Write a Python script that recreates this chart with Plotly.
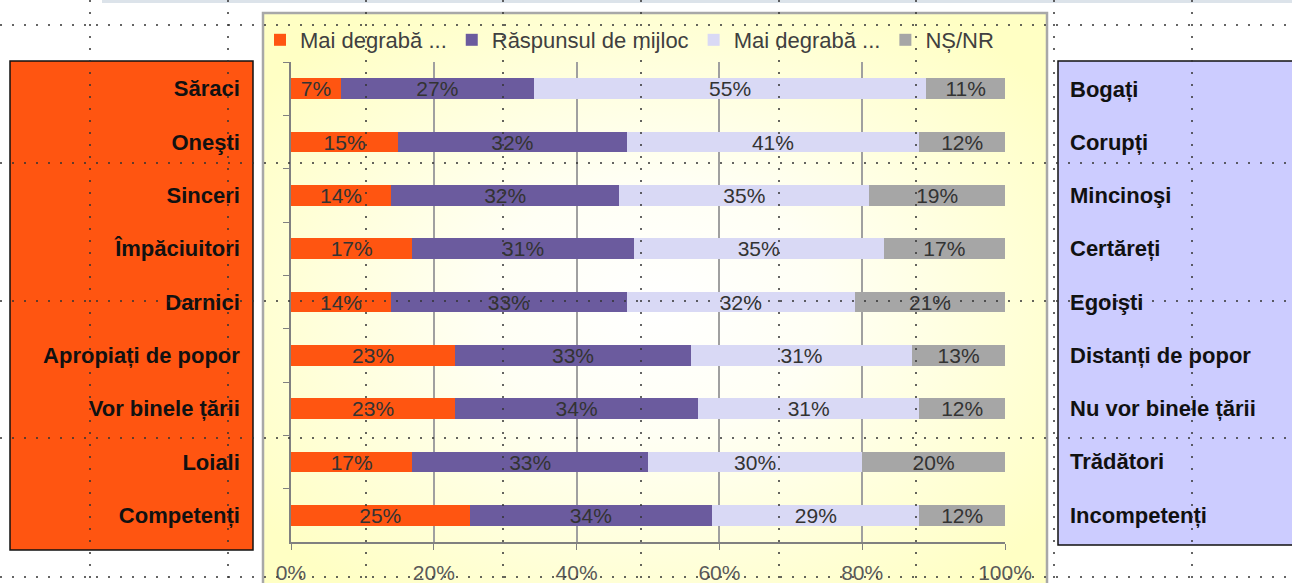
import base64
import plotly.graph_objects as go

# ---------------- data ----------------
left_labels = ["Săraci", "Oneşti", "Sinceri", "Împăciuitori", "Darnici",
               "Apropiați de popor", "Vor binele țării", "Loiali", "Competenți"]
right_labels = ["Bogați", "Corupți", "Mincinoşi", "Certăreți", "Egoişti",
                "Distanți de popor", "Nu vor binele țării", "Trădători", "Incompetenți"]

series_names = ["Mai degrabă ...", "Răspunsul de mijloc", "Mai degrabă ...", "NȘ/NR"]
neg_vals = [7, 15, 14, 17, 14, 23, 23, 17, 25]
mid_vals = [27, 32, 32, 31, 33, 33, 34, 33, 34]
pos_vals = [55, 41, 35, 35, 32, 31, 31, 30, 29]
nsnr_vals = [11, 12, 19, 17, 21, 13, 12, 20, 12]

x_tick_vals = [0, 20, 40, 60, 80, 100]
x_tick_text = ["0%", "20%", "40%", "60%", "80%", "100%"]

# ---------------- style ----------------
W, H = 1292, 583
L, R, T, B = 291, 287, 62, 41
PW, PH = W - L - R, H - T - B
colors = ["#FF5511", "#6B5B9E", "#D9D9F5", "#A6A6A6"]
FONT = "Liberation Sans, Arial, sans-serif"


def px(x):
    return (x - L) / PW


def py(y):
    return (H - B - y) / PH


fig = go.Figure()
for name, vals, col in zip(series_names, [neg_vals, mid_vals, pos_vals, nsnr_vals], colors):
    fig.add_trace(go.Bar(
        x=vals, y=left_labels, orientation="h", name=name,
        marker=dict(color=col, line=dict(width=0)),
        text=[f"{v}%" for v in vals], textposition="inside",
        insidetextanchor="middle", textangle=0, constraintext="none",
        textfont=dict(family=FONT, size=21, color="#333333"),
        hoverinfo="skip",
    ))

# invisible trace carrying the right-hand labels
fig.add_trace(go.Scatter(
    x=[0] * len(right_labels), y=right_labels, yaxis="y2", mode="markers",
    marker=dict(opacity=0, size=1), showlegend=False, hoverinfo="skip",
))

# gradient background of the chart frame
svg = ("<svg xmlns='http://www.w3.org/2000/svg' width='784' height='580'>"
       "<defs><radialGradient id='g' cx='50%' cy='50%' r='62%'>"
       "<stop offset='0' stop-color='#ffffff'/>"
       "<stop offset='0.35' stop-color='#fffff4'/>"
       "<stop offset='1' stop-color='#ffffc4'/>"
       "</radialGradient></defs>"
       "<rect width='784' height='580' fill='url(#g)'/></svg>")
src = "data:image/svg+xml;base64," + base64.b64encode(svg.encode()).decode()

shapes = []
# top strip
shapes.append(dict(type="rect", xref="paper", yref="paper", x0=px(102), x1=px(1292),
                   y0=py(0), y1=py(3), fillcolor="#DCE3EA", line=dict(width=0), layer="below"))
# left and right label boxes
shapes.append(dict(type="rect", xref="paper", yref="paper", x0=px(10), x1=px(253),
                   y0=py(61), y1=py(550), fillcolor="#FF5511",
                   line=dict(color="#111111", width=1.5), layer="below"))
shapes.append(dict(type="rect", xref="paper", yref="paper", x0=px(1058), x1=px(1310),
                   y0=py(61), y1=py(545), fillcolor="#CCCCFF",
                   line=dict(color="#111111", width=1.5), layer="below"))
# chart frame
shapes.append(dict(type="rect", xref="paper", yref="paper", x0=px(263), x1=px(1047),
                   y0=py(13), y1=py(600), fillcolor="rgba(0,0,0,0)",
                   line=dict(color="#A8A8A8", width=2.5), layer="above"))
# dotted editor grid
for gx in [90, 228, 366, 503, 641, 779, 916, 1054, 1192]:
    shapes.append(dict(type="line", xref="paper", yref="paper", x0=px(gx), x1=px(gx),
                       y0=py(0), y1=py(583), line=dict(color="#333333", width=1.5, dash="2px,10px"),
                       layer="above"))
for gy in [25, 163, 301, 438, 577]:
    shapes.append(dict(type="line", xref="paper", yref="paper", x0=px(0), x1=px(1292),
                       y0=py(gy), y1=py(gy), line=dict(color="#333333", width=1.5, dash="2px,10px"),
                       layer="above"))

fig.update_layout(
    width=W, height=H, autosize=False,
    margin=dict(l=L, r=R, t=T, b=B, pad=0, autoexpand=False),
    paper_bgcolor="white", plot_bgcolor="rgba(0,0,0,0)",
    barmode="stack", bargap=0.61,
    font=dict(family=FONT),
    showlegend=True,
    legend=dict(orientation="h", x=px(260), xanchor="left", y=py(40), yanchor="middle",
                font=dict(family=FONT, size=22, color="#404040"),
                bgcolor="rgba(0,0,0,0)", traceorder="normal"),
    xaxis=dict(range=[0, 100], tickvals=x_tick_vals, ticktext=x_tick_text,
               showgrid=True, gridcolor="#A0A0A0", gridwidth=1.5, zeroline=False,
               showline=True, linecolor="#808080", linewidth=1.5,
               ticks="outside", ticklen=6, tickcolor="#808080",
               tickfont=dict(family=FONT, size=21, color="#595959"),
               ticklabelstandoff=5, fixedrange=True, automargin=False),
    yaxis=dict(type="category", autorange="reversed", tickson="boundaries",
               showline=True, linecolor="#808080", linewidth=1.5,
               ticks="outside", ticklen=6, tickcolor="#808080", showgrid=False,
               tickfont=dict(family=FONT, size=22, color="#111111", weight="bold"),
               ticklabelstandoff=45, automargin=False),
    yaxis2=dict(type="category", autorange="reversed", overlaying="y", side="right",
                showline=False, ticks="", showgrid=False,
                tickfont=dict(family=FONT, size=22, color="#111111", weight="bold"),
                ticklabelstandoff=64, automargin=False),
    shapes=shapes,
    images=[dict(source=src, xref="paper", yref="paper", x=px(263), y=py(13),
                 sizex=784 / PW, sizey=(600 - 13) / PH, xanchor="left", yanchor="top",
                 sizing="stretch", layer="below")],
)

fig.write_html("out.html", config={"displayModeBar": False},
               post_script="document.body.style.margin='0px';")
